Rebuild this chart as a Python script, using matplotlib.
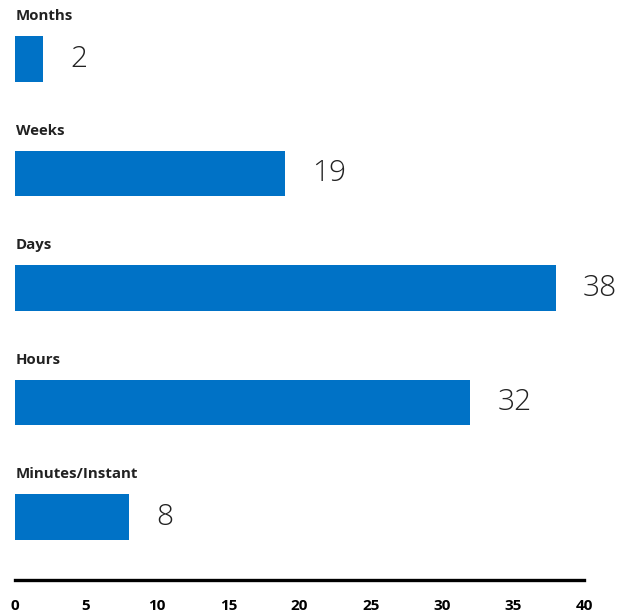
import matplotlib.pyplot as plt
from matplotlib import font_manager

categories = ["Months", "Weeks", "Days", "Hours", "Minutes/Instant"]
values = [2, 19, 38, 32, 8]
xticks = [0, 5, 10, 15, 20, 25, 30, 35, 40]

bar_color = "#0072C6"
text_color = "#222222"

names = {f.name for f in font_manager.fontManager.ttflist}
family = "Open Sans" if "Open Sans" in names else "DejaVu Sans"

fig = plt.figure(figsize=(6.23, 6.14), dpi=100)
ax = fig.add_axes([15 / 623, 1 - 580 / 614, 569 / 623, 580 / 614])

ypos = list(range(len(categories)))
ax.barh(ypos, values, height=0.4, color=bar_color)

for y, cat, v in zip(ypos, categories, values):
    ax.text(0.05, y - 0.375, cat, ha="left", va="center", fontsize=10.8,
            fontweight="bold", color=text_color, family=family)
    ax.annotate(str(v), xy=(v, y), xytext=(27, 0), textcoords="offset pixels",
                ha="left", va="center", fontsize=21.5, fontweight="light",
                color=text_color, family=family)

ax.set_xlim(0, 40)
ax.set_ylim(4.55, -0.515)
ax.set_xticks(xticks)
ax.set_xticklabels([str(t) for t in xticks], fontweight="bold", fontsize=11,
                   color="black", family=family)
ax.tick_params(axis="x", length=0, pad=14)
ax.set_yticks([])
for side in ["top", "right", "left"]:
    ax.spines[side].set_visible(False)
ax.spines["bottom"].set_linewidth(2.4)
ax.spines["bottom"].set_color("black")

fig.savefig("out.png", dpi=100)
